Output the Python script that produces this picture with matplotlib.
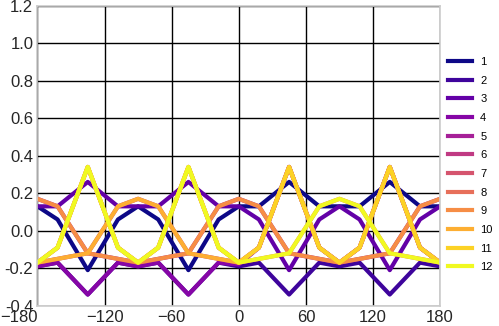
import numpy as np
import matplotlib
matplotlib.use("Agg")
import matplotlib.pyplot as plt

# angles (deg) at which the curves were sampled
angles = [-180, -162, -135, -108, -90, -72, -45, -18, 0, 18, 45, 72, 90, 108, 135, 162, 180]

s1 = [0.13, 0.06, -0.21, 0.06, 0.13, 0.06, -0.21, 0.06, 0.13, 0.13, 0.26, 0.13, 0.13, 0.13, 0.26, 0.13, 0.13]
s2 = [-0.19, -0.17, -0.34, -0.17, -0.19, -0.17, -0.34, -0.17, -0.19, -0.17, -0.34, -0.17, -0.19, -0.17, -0.34, -0.17, -0.19]
s3 = [0.13, 0.13, 0.26, 0.13, 0.13, 0.13, 0.26, 0.13, 0.13, 0.06, -0.21, 0.06, 0.13, 0.06, -0.21, 0.06, 0.13]
s4 = [-0.19, -0.17, -0.34, -0.17, -0.19, -0.17, -0.34, -0.17, -0.18, -0.09, 0.34, -0.09, -0.17, -0.09, 0.34, -0.09, -0.17]
s5 = [0.17, 0.13, -0.12, -0.15, -0.17, -0.15, -0.12, 0.13, 0.17, 0.13, -0.12, -0.15, -0.17, -0.15, -0.12, 0.13, 0.17]
s6 = [-0.17, -0.15, -0.12, 0.13, 0.17, 0.13, -0.12, -0.15, -0.17, -0.09, 0.34, -0.09, -0.17, -0.09, 0.34, -0.09, -0.17]
s7 = [-0.17, -0.09, 0.34, -0.09, -0.17, -0.09, 0.34, -0.09, -0.17, -0.09, 0.34, -0.09, -0.17, -0.09, 0.34, -0.09, -0.17]
s8 = [-0.17, -0.09, 0.34, -0.09, -0.17, -0.09, 0.34, -0.09, -0.17, -0.15, -0.12, 0.13, 0.17, 0.13, -0.12, -0.15, -0.17]
s9 = [0.17, 0.13, -0.12, -0.15, -0.17, -0.15, -0.12, 0.13, 0.17, 0.13, -0.12, -0.15, -0.17, -0.15, -0.12, 0.13, 0.17]
s10 = [-0.17, -0.15, -0.12, 0.13, 0.17, 0.13, -0.12, -0.15, -0.17, -0.09, 0.34, -0.09, -0.17, -0.09, 0.34, -0.09, -0.17]
s11 = [-0.17, -0.09, 0.34, -0.09, -0.17, -0.09, 0.34, -0.09, -0.17, -0.09, 0.34, -0.09, -0.17, -0.09, 0.34, -0.09, -0.17]
s12 = [-0.17, -0.09, 0.34, -0.09, -0.17, -0.09, 0.34, -0.09, -0.17, -0.15, -0.12, 0.13, 0.17, 0.13, -0.12, -0.15, -0.17]

series = [s1, s2, s3, s4, s5, s6, s7, s8, s9, s10, s11, s12]
labels = [str(i) for i in range(1, 13)]

plt.rcParams['font.family'] = ['Liberation Sans', 'DejaVu Sans']

fig = plt.figure(figsize=(4.99, 3.26), dpi=100)
ax = fig.add_axes([0.075, 0.062, 0.807, 0.921])

colors = plt.cm.plasma(np.linspace(0, 1, len(series)))
for vals, lab, c in zip(series, labels, colors):
    ax.plot(angles, vals, color=c, lw=3, label=lab)

ax.set_xlim(-180, 180)
ax.set_ylim(-0.4, 1.2)
ax.set_xticks(range(-180, 181, 60))
ax.set_yticks(np.arange(-0.4, 1.21, 0.2))
ax.set_yticklabels(["%.1f" % v for v in np.arange(-0.4, 1.21, 0.2)])
ax.grid(True, color='black', lw=1)
ax.set_axisbelow(True)
ax.tick_params(length=0, labelsize=12, colors='#262626', pad=3)
for sp in ax.spines.values():
    sp.set_color('#cccccc')
    sp.set_linewidth(1.2)

ax.get_xticklabels()[0].set_horizontalalignment('right')

ax.legend(loc='center left', bbox_to_anchor=(1.0, 0.47), frameon=False,
          fontsize=8, handlelength=2.2, handletextpad=0.7,
          labelspacing=0.78, borderaxespad=0.3)

fig.savefig("out.png", dpi=100)
